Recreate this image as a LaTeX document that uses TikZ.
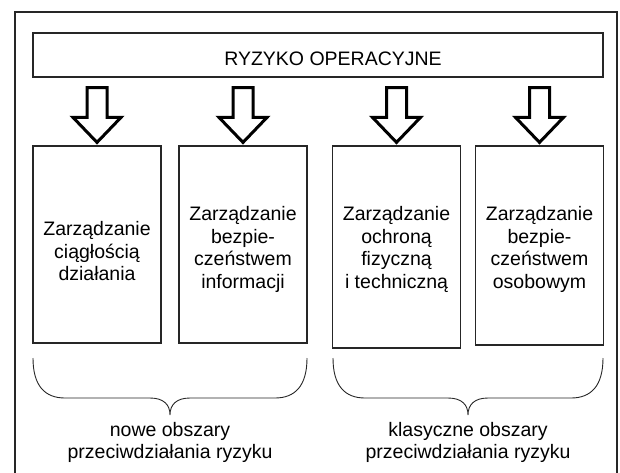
\documentclass[tikz,border=0pt]{standalone}
\usepackage{fontspec}
\setmainfont{Liberation Sans}
\usetikzlibrary{calc}

\begin{document}
\begin{tikzpicture}[x=1pt,y=-1pt,
  frame/.style={draw=black!85, line width=1.2pt},
  area/.style={frame, minimum width=128pt, inner sep=0pt},
  areatext/.style={align=center, font=\fontsize{19.5}{22.5}\selectfont},
  blockarrow/.style={draw=black, line width=3pt, fill=white, miter limit=10},
  curly/.style={draw=black!85, line width=0.9pt},
  caption/.style={align=center, font=\fontsize{19.5}{22}\selectfont}]

\useasboundingbox (0,0) rectangle (620,472);
\clip (0,0) rectangle (620,472);

% Outer frame (its bottom edge lies below the page)
\draw[frame] (15,12) rectangle (617,490);

% Top box
\node[frame, minimum width=570pt, minimum height=44pt, inner sep=0pt,
      label={[font=\fontsize{19.5}{22}\selectfont, xshift=15pt, yshift=-4pt]center:RYZYKO OPERACYJNE}]
      (risk) at (318,55) {};

% The four areas
\node[area, minimum height=197pt] (b1) at (97,244.5) {};
\node[area, minimum height=197pt] (b2) at (243,244.5) {};
\node[area, minimum height=202pt] (b3) at (396.5,247) {};
\node[area, minimum height=199pt] (b4) at (539.5,245.5) {};

\node[areatext] (t1) at ($(b1.north)+(0,106)$) {Zarządzanie\\ciągłością\\działania};
\node[areatext] (t2) at ($(b2.north)+(0,104)$) {Zarządzanie\\bezpie-\\czeństwem\\informacji};
\node[areatext] (t3) at ($(b3.north)+(0,104)$) {Zarządzanie\\ochroną\\fizyczną\\i techniczną};
\node[areatext] (t4) at ($(b4.north)+(0,104)$) {Zarządzanie\\bezpie-\\czeństwem\\osobowym};

% Block arrows from the top box down to each area
\foreach \b in {b1,b2,b3,b4} {
    \coordinate (tip) at ($(\b.north)+(0,-3)$);
    \draw[blockarrow] (tip) -- ++(-24,-25) -- ++(14,0) -- ($(tip |- risk.south)+(-10,10)$)
        -- ++(20,0) -- ($(tip)+(10,-25)$) -- ++(14,0) -- cycle;
}

% Braces and their captions
\foreach \xl/\xm/\xr/\txt [count=\i] in {33/170/307/{nowe obszary\\przeciwdziałania ryzyku},
                                          333/468/603/{klasyczne obszary\\przeciwdziałania ryzyku}} {
    \draw[curly] (\xl,358) .. controls (\xl,386) and (\xl+12,398) .. (\xl+32,398)
        -- (\xm-20,398) .. controls (\xm-6,398) and (\xm,405) .. (\xm,415)
        .. controls (\xm,405) and (\xm+6,398) .. (\xm+20,398)
        -- (\xr-32,398) .. controls (\xr-12,398) and (\xr,386) .. (\xr,358);
    \node[caption] (cap\i) at (\xm,442) {\txt};
}

\end{tikzpicture}
\end{document}
